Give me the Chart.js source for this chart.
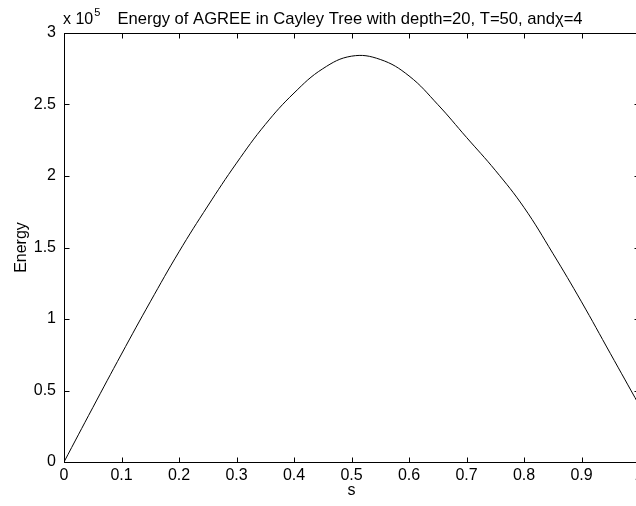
<!DOCTYPE html>
<html>
<head>
<meta charset="utf-8">
<script src="https://cdn.jsdelivr.net/npm/chart.js@4.4.1/dist/chart.umd.min.js"></script>
<style>
html,body{margin:0;padding:0;background:#fff;overflow:hidden;width:636px;height:506px;}
canvas{display:block;}
</style>
</head>
<body>
<canvas id="c" width="650" height="506"></canvas>
<script>
// s values (x axis)
const sValues = [0, 0.05, 0.1, 0.15, 0.2, 0.25, 0.3, 0.35, 0.4, 0.45, 0.5, 0.55, 0.6, 0.65, 0.7, 0.75, 0.8, 0.85, 0.9, 0.95, 1.0];
// Energy values (units of 1e5)
const energyE5 = [0, 0.38, 0.755, 1.12, 1.47, 1.79, 2.09, 2.36, 2.58, 2.75, 2.838, 2.815, 2.70, 2.50, 2.27, 2.04, 1.78, 1.46, 1.12, 0.76, 0.40];
const xTickValues = [0, 0.1, 0.2, 0.3, 0.4, 0.5, 0.6, 0.7, 0.8, 0.9, 1];
const yTickValues = [0, 50000, 100000, 150000, 200000, 250000, 300000];
const titleText = 'Energy of AGREE in Cayley Tree with depth=20, T=50, and\u03C7=4';
const xLabel = 's';
const yLabel = 'Energy';

const points = sValues.map((s, i) => ({x: s, y: energyE5[i] * 1e5}));
const FONT = '"Liberation Sans", Arial, Helvetica, sans-serif';
Chart.defaults.font.family = FONT;
Chart.defaults.font.size = 16;
Chart.defaults.color = '#000';

const boxPlugin = {
  id: 'matlabBox',
  afterDraw(chart) {
    const {ctx, chartArea: a, scales} = chart;
    ctx.save();
    ctx.strokeStyle = '#000';
    ctx.lineWidth = 1;
    const L = Math.round(a.left) + 0.5, R = Math.round(a.right) + 0.5;
    const T = Math.round(a.top) + 0.5, B = Math.round(a.bottom) + 0.5;
    ctx.strokeRect(L, T, R - L, B - T);
    const tl = 5;
    ctx.beginPath();
    xTickValues.forEach(v => {
      const px = Math.round(scales.x.getPixelForValue(v)) + 0.5;
      ctx.moveTo(px, B); ctx.lineTo(px, B - tl);
      ctx.moveTo(px, T); ctx.lineTo(px, T + tl);
    });
    yTickValues.forEach(v => {
      const py = Math.round(scales.y.getPixelForValue(v)) + 0.5;
      ctx.moveTo(L, py); ctx.lineTo(L + tl, py);
      ctx.moveTo(R, py); ctx.lineTo(R - tl, py);
    });
    ctx.stroke();
    // title
    ctx.fillStyle = '#000';
    ctx.font = '16.6px ' + FONT;
    ctx.textAlign = 'center';
    ctx.textBaseline = 'alphabetic';
    ctx.fillText(titleText, 350, 24);
    // exponent label
    ctx.font = '16px ' + FONT;
    ctx.textAlign = 'left';
    ctx.fillText('x 10', a.left - 1, 24);
    const w = ctx.measureText('x 10').width;
    ctx.font = '11px ' + FONT;
    ctx.fillText('5', a.left - 1 + w + 1, 16);
    ctx.restore();
  }
};

new Chart(document.getElementById('c'), {
  type: 'line',
  data: {
    datasets: [{
      data: points,
      borderColor: '#000',
      borderWidth: 1,
      pointRadius: 0,
      fill: false,
      tension: 0.4
    }]
  },
  options: {
    responsive: false,
    animation: false,
    devicePixelRatio: 1,
    layout: {padding: {left: 0, top: 33, right: 11, bottom: 0}},
    plugins: {legend: {display: false}, tooltip: {enabled: false}, title: {display: false}},
    scales: {
      x: {
        type: 'linear', min: 0, max: 1,
        grid: {display: false, drawTicks: false},
        border: {display: false},
        afterBuildTicks: s => { s.ticks = xTickValues.map(v => ({value: v})); },
        afterFit: s => { s.height = 44; },
        ticks: {padding: 4, maxRotation: 0, autoSkip: false, callback: v => String(Math.round(v * 10) / 10)},
        title: {display: true, text: xLabel, padding: {top: 0, bottom: 6}}
      },
      y: {
        type: 'linear', min: 0, max: 300000,
        grid: {display: false, drawTicks: false},
        border: {display: false},
        afterBuildTicks: s => { s.ticks = yTickValues.map(v => ({value: v})); },
        afterFit: s => { s.width = 64; },
        ticks: {padding: 8, autoSkip: false, callback: v => String(Math.round(v / 1e4) / 10)},
        title: {display: true, text: yLabel, padding: {top: 12, bottom: 0}}
      }
    }
  },
  plugins: [boxPlugin]
});
</script>
</body>
</html>
